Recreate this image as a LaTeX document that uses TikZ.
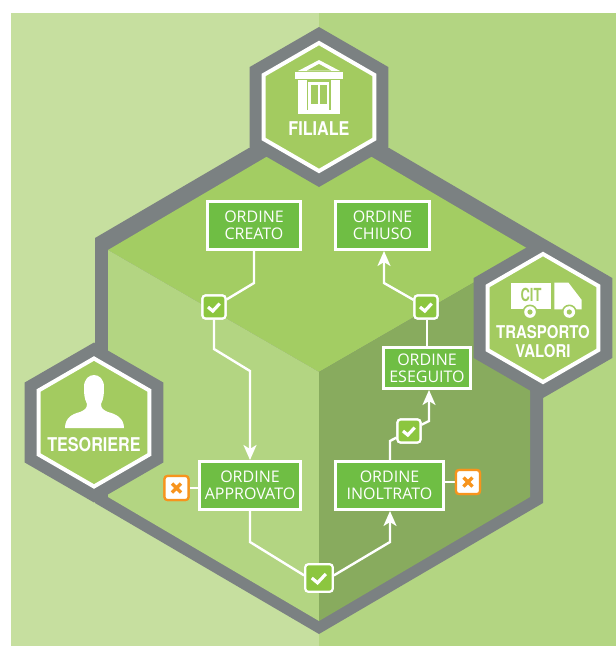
\documentclass[tikz,border=0pt]{standalone}
\usepackage{fontspec}
\usetikzlibrary{arrows.meta,shapes.geometric}
\newfontfamily\boxfont{Open Sans}
\newfontfamily\badgefont[FakeStretch=0.85]{TeX Gyre Heros}
\newfontfamily\citfont[FakeStretch=0.72]{TeX Gyre Heros}
\definecolor{paleleft}{HTML}{C6DF9F}
\definecolor{paleright}{HTML}{B3D582}
\definecolor{facetop}{HTML}{A3CD63}
\definecolor{faceright}{HTML}{88AB5E}
\definecolor{band}{HTML}{7B8182}
\definecolor{badgegreen}{HTML}{A3CB60}
\definecolor{stategreen}{HTML}{6FBE44}
\definecolor{okgreen}{HTML}{8CC63F}
\definecolor{koorange}{HTML}{F7941D}
\tikzset{
  hexband/.style={regular polygon,regular polygon sides=6,shape border rotate=30,minimum size=160pt,inner sep=0pt,outer sep=0pt,fill=band},
  hexbadge/.style={regular polygon,regular polygon sides=6,shape border rotate=30,minimum size=128pt,inner sep=0pt,outer sep=0pt,fill=badgegreen,draw=white,line width=4pt},
  hexlabel/.style={text=white,inner sep=0pt,align=center,font=\badgefont\bfseries\fontsize{19}{19}\selectfont},
  statebox/.style={draw=white,line width=3pt,fill=stategreen,text=white,inner sep=0pt,minimum height=48pt,align=center,font=\boxfont\fontsize{16}{17}\selectfont},
  okbox/.style={draw=white,line width=2.2pt,fill=okgreen,rounded corners=3pt,minimum size=23pt,inner sep=0pt},
  kobox/.style={draw=koorange,line width=2.2pt,fill=white,rounded corners=3pt,minimum size=24pt,inner sep=0pt},
  flow/.style={draw=white,line width=2.4pt},
  flowarrow/.style={flow,-{Stealth[length=15pt,width=13pt,inset=4pt]}},
  tick/.style={draw=white,line width=3.2pt},
  cross/.style={draw=koorange,line width=3.4pt},
  icon/.style={fill=white,draw=none},
  iconcut/.style={fill=badgegreen,draw=none}
}
\begin{document}
\begin{tikzpicture}[x=1pt,y=-1pt]
        \useasboundingbox (0,0) rectangle (616,646);
        % Fond
        \fill[paleleft] (11,13) rectangle (319,646);
        \fill[paleright] (319,13) rectangle (616,646);
        % Grand hexagone
        \fill[band] (319,107) -- (543,238) -- (543,503) -- (319,634) -- (95,503) -- (95,238) -- cycle;
        \fill[facetop] (319,126) -- (530,250) -- (319,372) -- (108,250) -- cycle;
        \fill[paleright] (108,250) -- (319,372) -- (319,621) -- (108,497) -- cycle;
        \fill[faceright] (530,250) -- (319,372) -- (319,621) -- (530,497) -- cycle;
        % Hexagones des acteurs
        \node[hexband] (filialeband) at (319,107) {};
        \node[hexband] (tesoriereband) at (94,422.5) {};
        \node[hexband] (trasportoband) at (543,318) {};
        \node[hexbadge] (filiale) at (319,107) {};
        \node[hexbadge] (tesoriere) at (94,422.5) {};
        \node[hexbadge] (trasporto) at (543,318) {};
        \node[hexlabel] (filialetxt) at (319,128.5) {FILIALE};
        \node[hexlabel] (tesorieretxt) at (94,445) {TESORIERE};
        \node[hexlabel,font=\badgefont\bfseries\fontsize{17.6}{19}\selectfont] (trasportotxt) at (543,341.5) {TRASPORTO\\VALORI};
        % Banque
        \fill[icon] (319,60) -- (340,71) -- (298,71) -- cycle;
        \fill[iconcut] (319,64) -- (331,70.5) -- (307,70.5) -- cycle;
        \fill[icon] (295,71.5) rectangle (342.5,78.5);
        \fill[icon] (297.5,80) rectangle (306.5,109.5);
        \fill[icon] (330.5,80) rectangle (340,109.5);
        \fill[icon] (308,81.5) rectangle (329,113);
        \fill[iconcut] (310.5,85) rectangle (317.5,104);
        \fill[iconcut] (319.5,85) rectangle (326.5,104);
        \fill[icon] (297.5,109.5) rectangle (340,114);
        % Personne
        \fill[icon] (65,428) .. controls (65,418) and (72,414) .. (80,412)
          .. controls (85,410) and (87,408) .. (87,404)
          .. controls (84,398) and (84,393) .. (84,387)
          .. controls (84,379) and (89,375) .. (94,375)
          .. controls (99,375) and (104,379) .. (104,387)
          .. controls (104,393) and (104,398) .. (101,404)
          .. controls (101,408) and (103,410) .. (108,412)
          .. controls (116,414) and (124,418) .. (124,428) -- cycle;
        % Camion
        \fill[icon] (511,282.7) rectangle (550.7,309.3);
        \fill[icon] (554.3,282.7) -- (568.5,282.7) -- (581.7,300) -- (581.7,309.3) -- (554.3,309.3) -- cycle;
        \foreach \x in {530,569.3} {
            \fill[iconcut] (\x,312) circle (7.5);
            \fill[icon] (\x,312) circle (5.8);
            \fill[iconcut] (\x,312) circle (2.6);
        }
        \node[text=badgegreen,inner sep=0pt,font=\citfont\bfseries\fontsize{18}{18}\selectfont] (cit) at (531,294.5) {CIT};
        % Etats
        \node[statebox,minimum width=93pt] (creato) at (254,225.5) {ORDINE\\CREATO};
        \node[statebox,minimum width=94pt] (chiuso) at (382.5,225.5) {ORDINE\\CHIUSO};
        \node[statebox,minimum width=87pt,minimum height=41pt] (eseguito) at (427,368) {ORDINE\\ESEGUITO};
        \node[statebox,minimum width=101pt] (approvato) at (250,485.5) {ORDINE\\APPROVATO};
        \node[statebox,minimum width=108pt] (inoltrato) at (389.5,485.5) {ORDINE\\INOLTRATO};
        % Controles
        \node[okbox] (okA) at (214,307) {};
        \node[okbox] (okB) at (426,307) {};
        \node[okbox] (okC) at (409,431) {};
        \node[okbox,minimum size=27.5pt] (okD) at (319,578) {};
        \node[kobox] (koA) at (176.5,488) {};
        \node[kobox] (koB) at (468,482) {};
        % Coudes
        \coordinate (bendA) at (254,283);
        \coordinate (bendB) at (214,349);
        \coordinate (bendC) at (250,371);
        \coordinate (bendD) at (250,542);
        \coordinate (bendE) at (390,542);
        \coordinate (bendF) at (390,441);
        \coordinate (bendG) at (429,421);
        \coordinate (bendH) at (384,283);
        % Liaisons
        \draw[flow] (creato.south) -- (bendA) -- (okA);
        \draw[flowarrow] (okA.south) -- (bendB) -- (bendC) -- (approvato.north);
        \draw[flow] (approvato.south) -- (bendD) -- (okD.170);
        \draw[flowarrow] (okD.10) -- (bendE) -- (inoltrato.south -| bendE);
        \draw[flow] (inoltrato.north -| bendF) -- (bendF) -- (okC);
        \draw[flowarrow] (okC) -- (bendG) -- (eseguito.south -| bendG);
        \draw[flow] (eseguito.north) -- (okB.south -| eseguito.north);
        \draw[flowarrow] (okB) -- (bendH) -- (chiuso.south -| bendH);
        \draw[flow] (koA) -- (approvato.west |- koA);
        \draw[flow] (koB) -- (inoltrato.east |- koB);
        % Redessiner les controles par-dessus
        \node[okbox] at (okA) {};
        \node[okbox] at (okB) {};
        \node[okbox] at (okC) {};
        \node[kobox] at (koA) {};
        \node[kobox] at (koB) {};
        % Coches et croix
        \foreach \name/\s in {okA/1,okB/1,okC/1,okD/1.2} {
            \draw[tick,shift={(\name.center)},scale=\s] (-6,0) -- (-1.2,4) -- (5.7,-3.4);
        }
        \foreach \name in {koA,koB} {
            \draw[cross,shift={(\name.center)}] (-4.5,-4.5) -- (4.5,4.5) (-4.5,4.5) -- (4.5,-4.5);
        }
\end{tikzpicture}
\end{document}
